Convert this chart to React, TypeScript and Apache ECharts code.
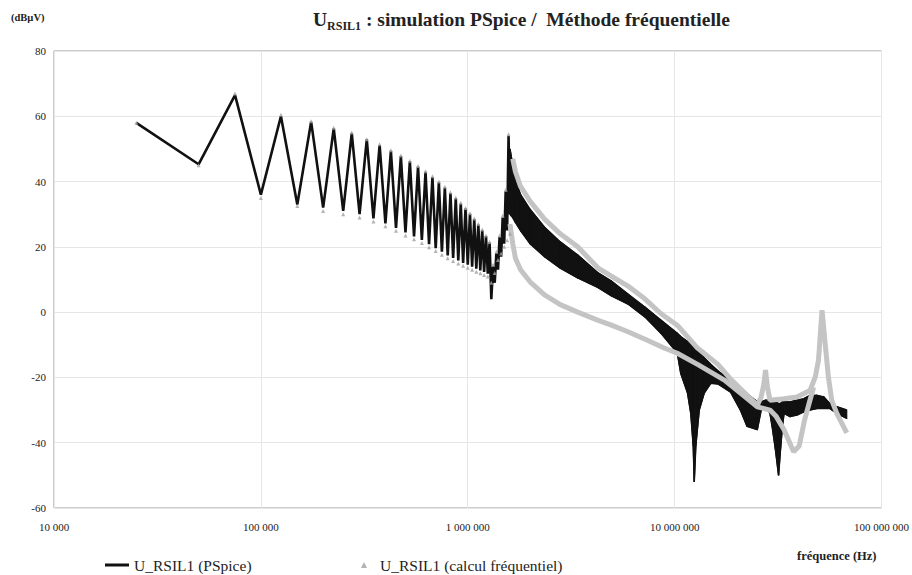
import React, { useEffect, useRef } from "react";
import * as echarts from "echarts";

// Harmonic frequencies (kHz) of the low-frequency part of the spectrum
const harmonicFreqKHz = [
  25, 50, 75, 100, 125, 150, 175, 200, 225, 250, 275, 300, 325, 350, 375, 400,
  425, 450, 475, 500, 525, 550, 575, 600, 625, 650, 675, 700, 725, 750, 775, 800,
  825, 850, 875, 900, 925, 950, 975, 1000, 1025, 1050, 1075, 1100, 1125, 1150, 1175, 1200,
  1225, 1250, 1275, 1300, 1325, 1350, 1375, 1400, 1425, 1450, 1475, 1500, 1525, 1550, 1575, 1600,
];
// U_RSIL1 (PSpice) at those harmonics, dBµV
const pspiceHarmonics = [
  58, 45.3, 66.5, 36, 60, 33, 58.3, 32, 56.3, 31,
  54.8, 30, 52.9, 28.7, 51.2, 27.2, 49.4, 25.8, 47.8, 24.4,
  46.2, 23.2, 44.6, 22.1, 43, 20.8, 41.4, 19.6, 39.8, 18.5,
  38.2, 17.4, 36.5, 16.6, 34.9, 15.8, 33.3, 15.1, 31.7, 14.5,
  30.1, 13.9, 28.5, 13.3, 26.8, 12.8, 25.1, 12.3, 23.3, 11.8,
  21.3, 4, 14, 9, 18, 13, 23, 17, 29, 21,
  37, 25, 54, 30,
];
// U_RSIL1 (calcul fréquentiel) at those harmonics, dBµV
const calcHarmonics = [
  58, 45, 67, 35, 60.5, 32.5, 58.5, 31, 56.5, 30,
  55, 29, 53, 27.8, 51.4, 26.3, 49.6, 24.9, 48, 23.5,
  46.4, 22.3, 44.8, 21.2, 43.2, 19.9, 41.6, 18.7, 40, 17.6,
  38.4, 16.5, 36.7, 15.7, 35.1, 14.9, 33.5, 14.2, 31.9, 13.6,
  30.3, 13, 28.7, 12.4, 27, 11.9, 25.3, 11.4, 23.5, 10.9,
  21.5, 9, 14.5, 12, 18.5, 16, 23.5, 18, 29.5, 20,
  37.5, 22, 54.5, 24,
];

// Dense part (PSpice): envelopes of odd / even harmonics (black band)
const bandFreqMHz = [
  1.6, 1.65, 1.7, 1.8, 2.0, 2.35, 2.8, 3.4, 4.27, 4.95,
  5.95, 7.2, 8.6, 10.3, 10.7, 11.55, 11.97, 12.3, 12.44, 12.66,
  13.15, 13.9, 14.95, 16.2, 18.65, 20.8, 22.4, 25.1, 26.2, 27.5,
  28.9, 29.6, 30.7, 31.8, 32.5, 33.2, 33.8, 36.1, 39.0, 42.2,
  45.1, 48.7, 52.6, 56.2, 60.8, 67.9,
];
const pspiceUpper = [
  50, 45, 40.5, 36, 31.5, 26, 21.5, 17.5, 12, 9.5,
  5.5, 1.5, -2.5, -6.5, -7.5, -9, -10, -10.5, -11, -11.5,
  -12.5, -14, -16, -18, -21, -23, -25, -27.5, -27.5, -27,
  -27, -27, -27.5, -28, -28, -27.5, -27.5, -27.5, -27, -26.5,
  -25.5, -25.5, -26, -28, -29, -30,
];
const pspiceLower = [
  30, 29, 27.5, 25, 21, 17, 13.5, 10.5, 7.5, 5,
  2.5, -1.5, -6.5, -12.5, -18.7, -24.8, -31, -41, -52, -41,
  -30, -24.8, -21.8, -22, -24.5, -30, -35, -36, -30, -28.5,
  -31, -35, -42, -50, -42, -35, -31, -32, -31.5, -30.5,
  -30, -29.5, -29.5, -29.5, -31, -32.5,
];

// Dense part (calcul fréquentiel): two grey traces
const calcUpperFreqMHz = [
  1.65, 1.7, 1.8, 2.0, 2.35, 2.8, 3.4, 4.27, 4.95, 5.95,
  7.2, 8.6, 10.3, 12.9, 16.2, 18.65, 22.4, 25.1, 26.2, 27.0,
  27.5, 28.1, 28.9, 33.8, 39.0, 45.1, 47.8, 49.6, 50.9, 51.6,
  53.4, 55.4, 57.5, 60.8, 67.9,
];
const calcUpper = [
  47, 43, 38.5, 34, 28.5, 24, 20, 13.5, 11, 8,
  4, -0.5, -4, -11, -16, -20.5, -25.5, -28.5, -26, -22,
  -17.7, -23, -27, -26.5, -26, -24, -20, -14.7, -4.5, 0.6,
  -9.5, -20, -27, -31, -37,
];
const calcLowerFreqMHz = [
  1.6, 1.65, 1.7, 1.8, 2.0, 2.35, 2.8, 3.4, 4.27, 4.95,
  5.95, 7.2, 8.9, 10.3, 12.9, 17.4, 20.8, 25.1, 28.9, 31.0,
  33.8, 37.6, 40.0, 42.5, 45.1, 47.0,
];
const calcLower = [
  27, 21, 16.5, 13, 9.3, 5.3, 2.3, 0, -2.5, -4,
  -6, -8.3, -11, -12.6, -16, -20.8, -24.8, -29, -30, -32,
  -36, -42.8, -41, -33, -27, -23,
];

const S1 = "U_RSIL1 (PSpice)";
const S2 = "U_RSIL1 (calcul fréquentiel)";
const SERIF = "'Liberation Serif', 'Times New Roman', serif";

function fmtThousands(v: number): string {
  return String(Math.round(v)).replace(/\B(?=(\d{3})+(?!\d))/g, " ");
}

export default function App() {
  const ref = useRef<HTMLDivElement>(null);
  useEffect(() => {
    if (!ref.current) return;
    const chart = echarts.init(ref.current, null, { renderer: "svg" });
    const black = "#111111";
    const grey = "#c4c4c4";

    const bandSegments = bandFreqMHz.slice(0, -1).map((m, i) => [
      m * 1e6,
      pspiceUpper[i],
      pspiceLower[i],
      bandFreqMHz[i + 1] * 1e6,
      pspiceUpper[i + 1],
      pspiceLower[i + 1],
    ]);

    const option: any = {
      animation: false,
      backgroundColor: "#ffffff",
      title: {
        text: "{m|U}{s|RSIL1}{m| : simulation PSpice /  Méthode fréquentielle}",
        left: 308,
        top: 1,
        textStyle: {
          rich: {
            m: { fontFamily: SERIF, fontWeight: "bold", fontSize: 19.5, color: "#222", lineHeight: 26 },
            s: { fontFamily: SERIF, fontWeight: "bold", fontSize: 12, color: "#222", lineHeight: 14, verticalAlign: "bottom" },
          },
        },
      },
      grid: {
        left: 54,
        right: 27,
        top: 51,
        bottom: 67,
        show: true,
        borderColor: "#999",
        borderWidth: 1,
        backgroundColor: "#fff",
      },
      legend: [
        {
          data: [{ name: S1 }],
          left: 100,
          top: 550,
          icon: "rect",
          itemWidth: 24,
          itemHeight: 3,
          textStyle: { fontFamily: SERIF, fontSize: 15.5, color: "#222", lineHeight: 20 },
          selectedMode: false,
        },
        {
          data: [{ name: S2 }],
          left: 356,
          top: 550,
          icon: "path://M3,0 L6,6 L0,6 Z",
          itemWidth: 22,
          itemHeight: 6,
          textStyle: { fontFamily: SERIF, fontSize: 15.5, color: "#222", lineHeight: 20 },
          selectedMode: false,
        },
      ],
      xAxis: {
        type: "log",
        logBase: 10,
        min: 10000,
        max: 100000000,
        axisLine: { show: false },
        axisTick: { show: false },
        splitLine: { show: true, lineStyle: { color: "#e6e6e6", width: 1 } },
        axisLabel: {
          fontFamily: SERIF,
          fontSize: 11,
          color: "#222",
          margin: 13,
          formatter: (v: number) => fmtThousands(v),
        },
      },
      yAxis: {
        type: "value",
        min: -60,
        max: 80,
        interval: 20,
        axisLine: { show: false },
        axisTick: { show: false },
        splitLine: { show: true, lineStyle: { color: "#e6e6e6", width: 1 } },
        axisLabel: { fontFamily: SERIF, fontSize: 11, color: "#222", margin: 8 },
      },
      graphic: [
        {
          type: "text",
          left: 11,
          top: 12,
          style: { text: "(dBµV)", fontFamily: SERIF, fontWeight: "bold", fontSize: 10.5, fill: "#222" },
        },
        {
          type: "text",
          left: 797,
          top: 549,
          style: { text: "fréquence (Hz)", fontFamily: SERIF, fontWeight: "bold", fontSize: 12.5, fill: "#222" },
        },
      ],
      series: [
        {
          name: S1,
          type: "line",
          data: harmonicFreqKHz.map((k, i) => [k * 1000, pspiceHarmonics[i]]),
          symbol: "none",
          lineStyle: { color: black, width: 2.6 },
          itemStyle: { color: black },
          z: 2,
        },
        {
          name: "band",
          type: "custom",
          data: bandSegments,
          encode: { x: [0, 3], y: [1, 2, 4, 5] },
          clip: true,
          z: 2,
          renderItem: (_params: any, api: any) => {
            const p1 = api.coord([api.value(0), api.value(1)]);
            const p2 = api.coord([api.value(3), api.value(4)]);
            const p3 = api.coord([api.value(3), api.value(5)]);
            const p4 = api.coord([api.value(0), api.value(2)]);
            return {
              type: "polygon",
              shape: { points: [p1, p2, p3, p4] },
              style: { fill: black, stroke: black, lineWidth: 1.2 },
            };
          },
        },
        {
          name: "bandUpper",
          type: "line",
          data: bandFreqMHz.map((m, i) => [m * 1e6, pspiceUpper[i]]),
          symbol: "none",
          lineStyle: { color: black, width: 1.5 },
          z: 2,
        },
        {
          name: "bandLower",
          type: "line",
          data: bandFreqMHz.map((m, i) => [m * 1e6, pspiceLower[i]]),
          symbol: "none",
          lineStyle: { color: black, width: 1.5 },
          z: 2,
        },
        {
          name: S2,
          type: "scatter",
          data: harmonicFreqKHz.map((k, i) => [k * 1000, calcHarmonics[i]]),
          symbol: "triangle",
          symbolSize: 4,
          itemStyle: { color: "#a0a0a0" },
          z: 3,
        },
        {
          name: S2,
          type: "line",
          data: calcUpperFreqMHz.map((m, i) => [m * 1e6, calcUpper[i]]),
          symbol: "none",
          lineStyle: { color: grey, width: 5 },
          itemStyle: { color: grey },
          z: 3,
        },
        {
          name: S2,
          type: "line",
          data: calcLowerFreqMHz.map((m, i) => [m * 1e6, calcLower[i]]),
          symbol: "none",
          lineStyle: { color: grey, width: 5 },
          itemStyle: { color: grey },
          z: 3,
        },
      ],
    };
    chart.setOption(option);
    return () => chart.dispose();
  }, []);
  return (
    <div
      ref={ref}
      style={{ position: "absolute", left: 0, top: 0, width: 912, height: 575, background: "#fff" }}
    />
  );
}
